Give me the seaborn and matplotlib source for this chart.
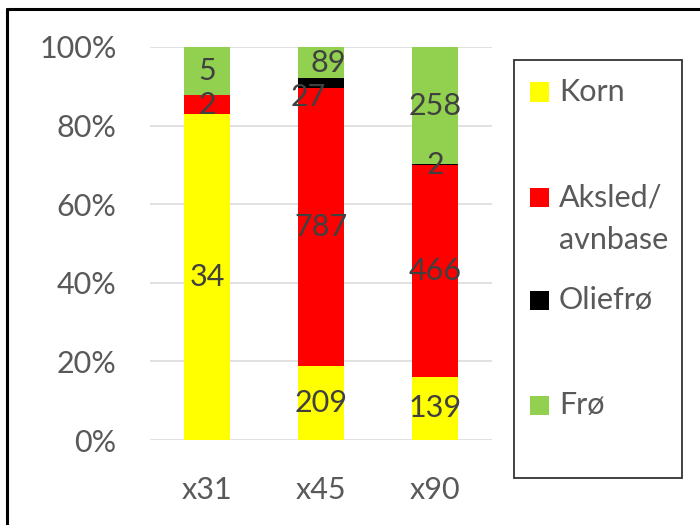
import numpy as np
import pandas as pd
import matplotlib
matplotlib.use("Agg")
import matplotlib.pyplot as plt
from matplotlib.patches import Rectangle
from matplotlib.lines import Line2D
import seaborn as sns

# data (counts per category, stacked as share of total)
categories = ["x31", "x45", "x90"]
series = ["Korn", "Aksled/\navnbase", "Oliefrø", "Frø"]
korn = [34, 209, 139]
aksled = [2, 787, 466]
oliefro = [0, 27, 2]
fro = [5, 89, 258]
colors = ["#FFFF00", "#FF0000", "#000000", "#92D050"]

counts = np.array([korn, aksled, oliefro, fro], dtype=float)
shares = counts / counts.sum(axis=0)
cum = shares.cumsum(axis=0)

sns.set_theme(style="white")
plt.rcParams["font.family"] = ["Lato", "DejaVu Sans"]

W, H = 700, 525
fig = plt.figure(figsize=(7, 5.25), dpi=100)
ax = fig.add_axes([150 / W, 1 - 440 / H, 342 / W, 393 / H])

# draw cumulative bars from the top layer down so they stack visually
for i in range(len(series) - 1, -1, -1):
    df = pd.DataFrame({"cat": categories, "val": cum[i]})
    sns.barplot(data=df, x="cat", y="val", color=colors[i], width=0.4,
                saturation=1, linewidth=0, ax=ax, zorder=2)

# data labels centred in each segment (a couple nudged like the original)
label_nudge = {(2, 1): (-9, -10), (3, 1): (5, 0)}
for i in range(len(series)):
    for j in range(len(categories)):
        if counts[i, j] == 0:
            continue
        y = cum[i, j] - shares[i, j] / 2
        dx, dy = label_nudge.get((i, j), (0, 0))
        ax.annotate(f"{int(counts[i, j])}", (j, y), xytext=(dx, dy),
                    textcoords="offset points", ha="center", va="center",
                    fontsize=22, color="#404040", zorder=5)

ax.set_ylim(0, 1)
ax.set_xlim(-0.5, 2.5)
ticks = np.arange(0, 1.01, 0.2)
ax.set_yticks(ticks)
ax.set_yticklabels([f"{int(round(t * 100))}%" for t in ticks])
ax.yaxis.grid(True, color="#D9D9D9", linewidth=1.1, zorder=0)
ax.set_axisbelow(True)
ax.tick_params(axis="y", length=0, pad=24, labelsize=22, labelcolor="#595959")
ax.tick_params(axis="x", length=0, pad=26, labelsize=22, labelcolor="#595959")
ax.set_xlabel("")
ax.set_ylabel("")
for s in ax.spines.values():
    s.set_visible(False)

# legend box laid out like the Excel original (marker beside first line)
fig.add_artist(Rectangle((514 / W, 1 - 478 / H), 168 / W, 418 / H, fill=False,
                         edgecolor="#333333", linewidth=1.3,
                         transform=fig.transFigure))
entry_y = [92, 197, 300, 405]
for lab, c, yy in zip(series, colors, entry_y):
    fig.add_artist(Rectangle((530 / W, 1 - (yy + 9.5) / H), 19 / W, 19 / H,
                             facecolor=c, edgecolor="none",
                             transform=fig.transFigure))
    for k, line in enumerate(lab.split("\n")):
        fig.text(559 / W, 1 - (yy + 43 * k) / H, line, ha="left", va="center",
                 fontsize=22, color="#595959")

# outer frame (top and left edge of the chart area)
fig.add_artist(Line2D([7 / W, 1], [1 - 9 / H, 1 - 9 / H],
                      color="black", linewidth=2.2, transform=fig.transFigure))
fig.add_artist(Line2D([7 / W, 7 / W], [0, 1 - 9 / H],
                      color="black", linewidth=2.2, transform=fig.transFigure))

fig.savefig("out.png", dpi=100)
